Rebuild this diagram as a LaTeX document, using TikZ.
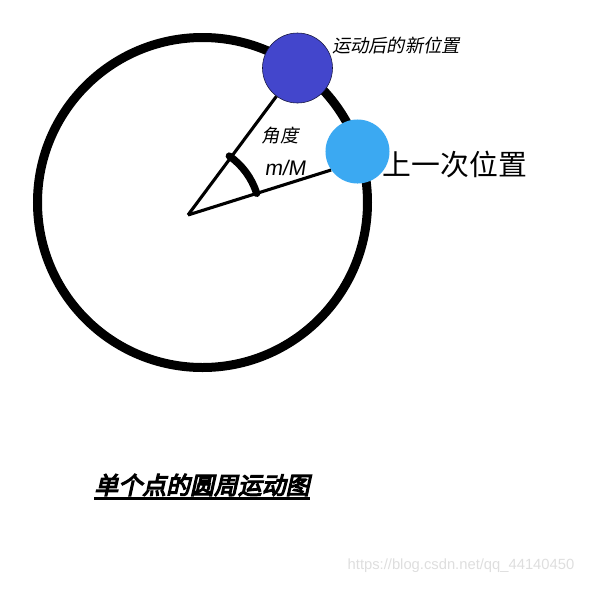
\documentclass[tikz,border=0pt]{standalone}
\usepackage{fontspec}
\setmainfont{Noto Sans CJK SC}
\newfontfamily\slantFont{Noto Sans CJK SC}[FakeSlant=0.2]
\newfontfamily\titleFont{Noto Sans CJK SC}[FakeSlant=0.22,FakeBold=5]
\newfontfamily\latinSlantFont{Liberation Sans}[FakeSlant=0.15]
\newfontfamily\markFont{Liberation Sans}
\usetikzlibrary{positioning}
\tikzstyle{canvas} = [x = .025cm, y = -.025cm]
\definecolor{newColor}{RGB}{67,70,204}
\definecolor{lastColor}{RGB}{59,169,242}
\definecolor{markColor}{RGB}{222,222,222}
\tikzstyle{orbitLine} = [color=black, line width=6.4pt]
\tikzstyle{radiusLine} = [color=black, line width=2.2pt]
\tikzstyle{angleArc} = [color=black, line width=5.2pt, line cap=round]
\tikzstyle{newDot} = [circle, fill=newColor, draw=black!70!newColor, thin, minimum size=1.75cm, inner sep=0pt]
\tikzstyle{lastDot} = [circle, fill=lastColor, minimum size=1.6cm, inner sep=0pt]
\tikzstyle{smallLabel} = [inner sep=0pt, font=\slantFont\fontsize{13}{15}\selectfont]
\tikzstyle{bigLabel} = [inner sep=0pt, font=\fontsize{20.5}{24}\selectfont]
\tikzstyle{titleText} = [inner sep=0pt, font=\titleFont\fontsize{17}{20}\selectfont]
\tikzstyle{titleRule} = [color=black, line width=2pt]
\tikzstyle{markText} = [inner sep=0pt, color=markColor, font=\markFont\fontsize{10.5}{12}\selectfont]

\begin{document}
\begin{tikzpicture}[canvas]
  \useasboundingbox (0,0) rectangle (594,588);
  \coordinate (orbitCenter) at (202.5,202.5);
  \coordinate (vertex) at (188,215);

  % orbit
  \draw [orbitLine] (orbitCenter) circle [radius=165];

  % the two positions
  \node [newDot] (newPos) at (297.5,68) {};
  \node [lastDot] (lastPos) at (357.5,151.5) {};

  \draw [radiusLine] (vertex) -- (newPos);
  \draw [radiusLine] (vertex) -- (lastPos.215);
  \draw [angleArc] (vertex) ++(-55:72) arc [start angle=-55, end angle=-17.5, radius=72];

  % labels
  \node [smallLabel] (newLabel) at (396,46) {运动后的新位置};
  \node [smallLabel] (angleLabel) at (280,136) {角度};
  \node [smallLabel, font=\latinSlantFont\fontsize{15}{17}\selectfont] (ratioLabel) at (285,168) {m/M};
  \node [bigLabel] (lastLabel) at (455,164) {上一次位置};

  \node [titleText] (title) at (202,485) {单个点的圆周运动图};
  \draw [titleRule] ([yshift=-1.5pt]title.south west) -- ([yshift=-1.5pt]title.south east);

  \node [markText] (mark) at (461,566) {https://blog.csdn.net/qq\_44140450};
\end{tikzpicture}
\end{document}
